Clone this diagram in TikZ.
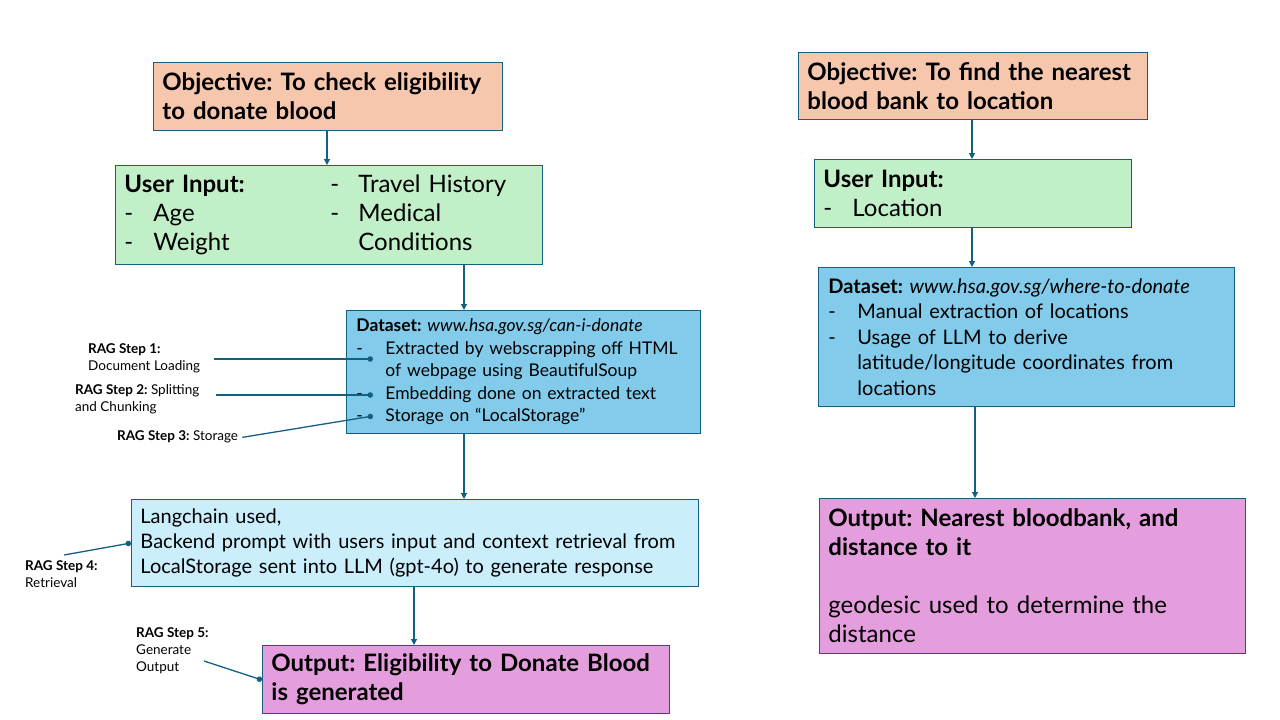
\documentclass[tikz,border=0pt]{standalone}
\usepackage{fontspec}
\setmainfont{Lato}
\usetikzlibrary{arrows.meta}
\definecolor{linec}{HTML}{156082}
\definecolor{peach}{HTML}{F6C6AD}
\definecolor{mint}{HTML}{C1F0C8}
\definecolor{dblue}{HTML}{83CBEB}
\definecolor{lblue}{HTML}{CAEEFB}
\definecolor{pinkc}{HTML}{E59EDD}
\hyphenpenalty=10000
\exhyphenpenalty=10000
\frenchspacing
\newcommand{\itm}[2][29pt]{\par\hangindent=#1\hangafter=1\noindent\makebox[#1][l]{-}#2}
\newcommand{\fs}[2]{\fontsize{#1}{#2}\selectfont}
\begin{document}
\begin{tikzpicture}[x=1pt,y=-1pt,
  box/.style={draw=linec, line width=0.9pt, anchor=north west, align=left, inner xsep=9pt, inner ysep=0pt, font=\fs{24pt}{29pt}},
  arr/.style={draw=linec, line width=1.2pt, -{Triangle[length=6pt,width=6pt]}},
  lead/.style={draw=linec, line width=1.3pt, -{Circle[length=5.5pt]}},
  lab/.style={anchor=north west, align=left, inner sep=0pt, font=\fs{13.5pt}{17pt}}]
\useasboundingbox (0,0) rectangle (1280,720);
% left column
\node[box, fill=peach, text width=331pt, minimum height=68pt] (obj1) at (153,62)
  {\bfseries Objective: To check eligibility\\ to donate blood};
\node[box, fill=mint, text width=409pt, minimum height=99pt] (ui1) at (115,165)
  {\begin{minipage}[t]{206pt}\raggedright\textbf{User Input:}\itm{Age}\itm{Weight}\end{minipage}%
   \begin{minipage}[t]{200pt}\raggedright\itm[28pt]{Travel History}\itm[28pt]{Medical\newline Conditions}\end{minipage}};
\node[box, fill=dblue, text width=334pt, minimum height=123pt, inner xsep=10pt, font=\fs{17.5pt}{22.5pt}] (ds1) at (346,310)
  {\textbf{Dataset:} \textit{www.hsa.gov.sg/can-i-donate}\itm{Extracted by webscrapping off HTML of webpage using BeautifulSoup}\itm{Embedding done on extracted text}\itm{Storage on “LocalStorage”}\par};
\node[box, fill=lblue, text width=549pt, minimum height=87pt, font=\fs{20pt}{25pt}] (lc) at (131,499)
  {Langchain used,\\Backend prompt with users input and context retrieval from\\LocalStorage sent into LLM (gpt-4o) to generate response};
\node[box, fill=pinkc, text width=389pt, minimum height=68pt] (out1) at (262,645)
  {\bfseries Output: Eligibility to Donate Blood\\ is generated};
% right column
\node[box, fill=peach, text width=331pt, minimum height=67pt] (obj2) at (798,52)
  {\bfseries Objective: To find the nearest\\ blood bank to location};
\node[box, fill=mint, text width=299pt, minimum height=68pt] (ui2) at (814,159)
  {\textbf{User Input:}\itm{Location}\par};
\node[box, fill=dblue, text width=396pt, minimum height=139pt, inner xsep=10pt, font=\fs{20pt}{25.5pt}] (ds2) at (818,267)
  {\textbf{Dataset:} \textit{www.hsa.gov.sg/where-to-donate}\itm{Manual extraction of locations}\itm{Usage of LLM to derive latitude/longitude coordinates from locations\rightskip=40pt plus 1fil}\par};
\node[box, fill=pinkc, text width=408pt, minimum height=155pt] (out2) at (819,498)
  {\textbf{Output: Nearest bloodbank, and}\\\textbf{distance to it}\\[29pt]geodesic used to determine the\\distance};
% arrows
\draw[arr] (obj1.south -| 327,0) -- (ui1.north -| 327,0);
\draw[arr] (ui1.south -| 464,0) -- (ds1.north -| 464,0);
\draw[arr] (ds1.south -| 464,0) -- (lc.north -| 464,0);
\draw[arr] (lc.south -| 414,0) -- (out1.north -| 414,0);
\draw[arr] (obj2.south -| 972,0) -- (ui2.north -| 972,0);
\draw[arr] (ui2.south -| 972,0) -- (ds2.north -| 972,0);
\draw[arr] (ds2.south -| 975,0) -- (out2.north -| 975,0);
% RAG labels
\node[lab] (r1) at (88,343) {\textbf{RAG Step 1:}\\Document Loading};
\node[lab] (r2) at (75,384) {\textbf{RAG Step 2:} Splitting\\and Chunking};
\node[lab] (r3) at (117,430) {\textbf{RAG Step 3:} Storage};
\node[lab] (r4) at (25,560) {\textbf{RAG Step 4:}\\Retrieval};
\node[lab] (r5) at (136,627) {\textbf{RAG Step 5:}\\Generate\\Output};
\coordinate (p1) at (373,359);
\coordinate (p2) at (373,395);
\coordinate (p3) at (373,416);
\coordinate (p4) at (131,543);
\coordinate (p5) at (262,680);
\draw[lead] (214,359) -- (p1);
\draw[lead] (216,395) -- (p2);
\draw[lead] (r3.east) ++(4,1) -- (p3);
\draw[lead] (64,555) -- (p4);
\draw[lead] (204,661) -- (p5);
\end{tikzpicture}
\end{document}
